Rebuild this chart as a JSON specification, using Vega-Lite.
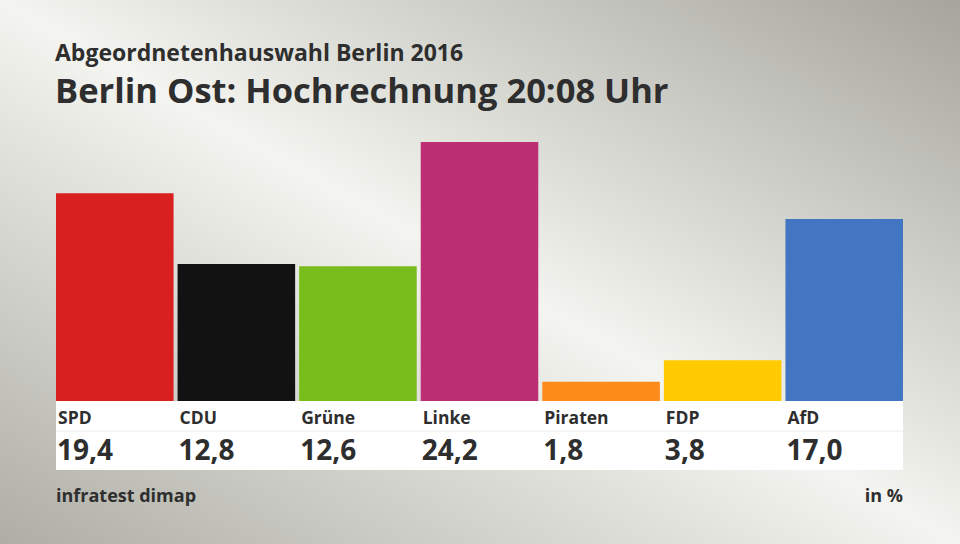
{
  "$schema": "https://vega.github.io/schema/vega-lite/v6.json",
  "width": 960,
  "height": 544,
  "padding": 0,
  "autosize": {"type": "none"},
  "config": {
    "font": "Open Sans",
    "view": {
      "stroke": null,
      "fill": {"gradient": "linear", "x1": 0, "y1": 1, "x2": 1, "y2": 0,
        "stops": [{"offset": 0, "color": "#aeaea6"}, {"offset": 0.5, "color": "#f4f4f0"}, {"offset": 1, "color": "#a5a59d"}]}
    }
  },
  "title": {
    "text": "Abgeordnetenhauswahl Berlin 2016",
    "subtitle": "Berlin Ost: Hochrechnung 20:08 Uhr",
    "anchor": "start",
    "frame": "group",
    "orient": "top",
    "dx": 55,
    "dy": 113,
    "font": "Open Sans",
    "subtitleFont": "Open Sans",
    "fontSize": 23,
    "subtitleFontSize": 34.5,
    "fontWeight": "bold",
    "subtitleFontWeight": "bold",
    "color": "#2e2e2e",
    "subtitleColor": "#2e2e2e",
    "subtitlePadding": 10
  },
  "data": {
    "values": [
      {"party": "SPD", "value": 19.4, "label": "19,4"},
      {"party": "CDU", "value": 12.8, "label": "12,8"},
      {"party": "Grüne", "value": 12.6, "label": "12,6"},
      {"party": "Linke", "value": 24.2, "label": "24,2"},
      {"party": "Piraten", "value": 1.8, "label": "1,8"},
      {"party": "FDP", "value": 3.8, "label": "3,8"},
      {"party": "AfD", "value": 17.0, "label": "17,0"}
    ]
  },
  "encoding": {
    "x": {
      "field": "party", "type": "nominal", "sort": null, "axis": null,
      "scale": {"domain": ["SPD", "CDU", "Grüne", "Linke", "Piraten", "FDP", "AfD"], "range": [56, 903], "paddingInner": 0.033, "paddingOuter": 0}
    }
  },
  "layer": [
    {
      "mark": {"type": "rect", "fill": "#ffffff"},
      "data": {"values": [{"k": 1}]},
      "encoding": {
        "x": {"datum": "SPD", "bandPosition": 0, "type": "nominal", "axis": null},
        "x2": {"datum": "AfD", "bandPosition": 1},
        "y": {"datum": 0, "type": "quantitative", "axis": null, "scale": {"domain": [0, 24.2], "range": [401, 142], "nice": false, "zero": true}},
        "y2": {"datum": -6.45}
      }
    },
    {
      "mark": {"type": "rule", "stroke": "#ececec", "strokeWidth": 1},
      "data": {"values": [{"k": 1}]},
      "encoding": {
        "x": {"datum": "SPD", "bandPosition": 0, "type": "nominal"},
        "x2": {"datum": "AfD", "bandPosition": 1},
        "y": {"datum": -2.8, "type": "quantitative"}
      }
    },
    {
      "mark": {"type": "bar"},
      "encoding": {
        "y": {"field": "value", "type": "quantitative"},
        "color": {
          "field": "party", "type": "nominal", "legend": null,
          "scale": {"domain": ["SPD", "CDU", "Grüne", "Linke", "Piraten", "FDP", "AfD"],
            "range": ["#d8201f", "#121212", "#78bd1c", "#bd2f74", "#fd8b1a", "#ffcb00", "#4276c2"]}
        }
      }
    },
    {
      "mark": {"type": "text", "align": "left", "baseline": "middle", "dx": 2, "fontSize": 17.5, "fontWeight": "bold", "color": "#2e2e2e"},
      "encoding": {
        "x": {"field": "party", "type": "nominal", "bandPosition": 0},
        "y": {"datum": -1.7, "type": "quantitative"},
        "text": {"field": "party"}
      }
    },
    {
      "mark": {"type": "text", "align": "left", "baseline": "middle", "dx": 1, "fontSize": 28, "fontWeight": "bold", "color": "#2e2e2e"},
      "encoding": {
        "x": {"field": "party", "type": "nominal", "bandPosition": 0},
        "y": {"datum": -4.75, "type": "quantitative"},
        "text": {"field": "label"}
      }
    },
    {
      "mark": {"type": "text", "align": "left", "baseline": "middle", "fontSize": 18, "fontWeight": "bold", "color": "#2e2e2e"},
      "data": {"values": [{"note": "infratest dimap"}]},
      "encoding": {
        "x": {"datum": "SPD", "bandPosition": 0, "type": "nominal"},
        "y": {"datum": -9.0, "type": "quantitative"},
        "text": {"field": "note"}
      }
    },
    {
      "mark": {"type": "text", "align": "right", "baseline": "middle", "fontSize": 18, "fontWeight": "bold", "color": "#2e2e2e"},
      "data": {"values": [{"note": "in %"}]},
      "encoding": {
        "x": {"datum": "AfD", "bandPosition": 1, "type": "nominal"},
        "y": {"datum": -9.0, "type": "quantitative"},
        "text": {"field": "note"}
      }
    }
  ]
}
